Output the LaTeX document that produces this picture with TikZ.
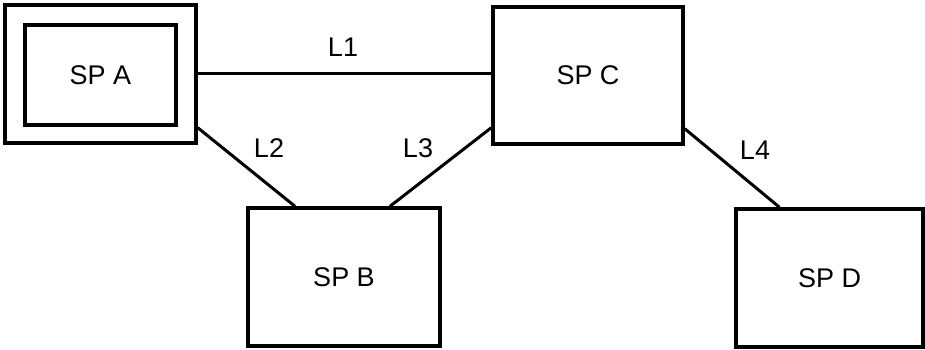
\documentclass[tikz,border=0pt]{standalone}
\usepackage{fontspec}
\setmainfont{Liberation Sans}
\begin{document}
\begin{tikzpicture}[x=1pt,y=-1pt,
  box/.style={draw,line width=3.4pt,inner sep=0pt,font=\fontsize{27}{31}\selectfont},
  lnk/.style={line width=3pt},
  lbl/.style={font=\fontsize{27}{31}\selectfont}]
\useasboundingbox (0,0) rectangle (925,350);
\node[box,minimum width=191pt,minimum height=138pt] (A) at (100.5,74) {};
\node[box,minimum width=151pt,minimum height=100pt] (Ai) at (100.5,75) {SP A};
\node[box,minimum width=190pt,minimum height=137pt] (C) at (588,75.5) {SP C};
\node[box,minimum width=192pt,minimum height=138pt] (B) at (344,277) {SP B};
\node[box,minimum width=187pt,minimum height=138pt] (D) at (829.5,278) {SP D};
\draw[lnk] (A.east) -- (A.east -| C.west);
\draw[lnk] ([yshift=17pt]A.south east) -- ([xshift=-49pt]B.north);
\draw[lnk] ([yshift=18pt]C.south west) -- ([xshift=46pt]B.north);
\draw[lnk] ([yshift=17pt]C.south east) -- ([xshift=-50pt]D.north);
\node[lbl] (l1) at (343,47) {L1};
\node[lbl] (l2) at (269,148) {L2};
\node[lbl] (l3) at (418,148) {L3};
\node[lbl] (l4) at (755,150) {L4};
\end{tikzpicture}
\end{document}
